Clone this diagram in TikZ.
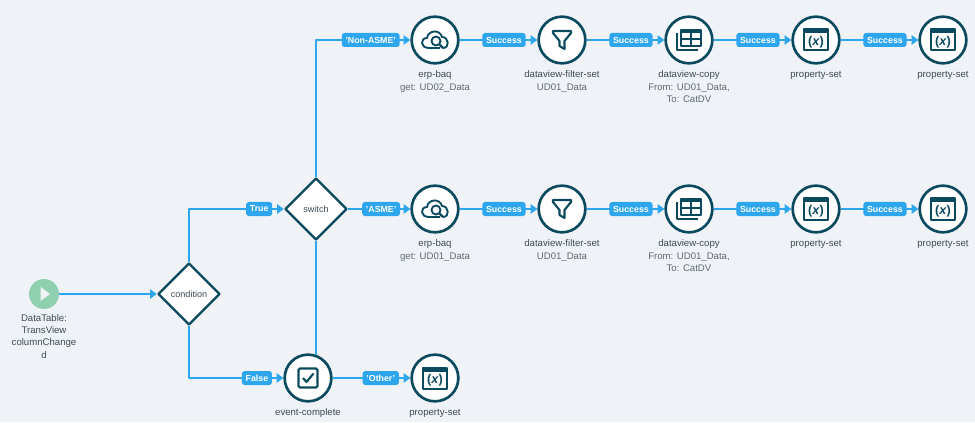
\documentclass[tikz,border=0pt]{standalone}
\usepackage{fontspec}
\setmainfont{Liberation Sans}
\usetikzlibrary{arrows.meta,positioning,shapes.geometric}
\definecolor{pagebg}{HTML}{EFF3F7}
\definecolor{teal}{HTML}{0B4A5E}
\definecolor{flow}{HTML}{2EA6EE}
\definecolor{startgreen}{HTML}{8FD0B0}
\definecolor{captext}{HTML}{3F4A52}
\definecolor{subtext}{HTML}{5F6A72}
\tikzset{
	act/.style={circle, draw=teal, line width=2pt, fill=white, minimum size=35pt, inner sep=0pt},
	gate/.style={diamond, aspect=1, draw=teal, line width=1.8pt, fill=white, minimum size=46.5pt, inner sep=0pt, text=captext, font=\fontsize{6.8}{8}\selectfont},
	capt/.style={align=center, inner sep=0pt, text=captext, font=\fontsize{7.2}{9.3}\selectfont},
	flag/.style={fill=flow, text=white, rounded corners=2pt, inner xsep=2.8pt, inner ysep=0pt, minimum height=10.5pt, font=\fontsize{6.6}{8}\bfseries\selectfont},
	wire/.style={flow, line width=1.4pt, ->},
	iconbaq/.pic={
		\draw[teal, line width=1.4pt] (5,-8) -- (-6,-8) .. controls (-15,-8) and (-15,2) .. (-8,2) .. controls (-7,10) and (5,11) .. (7,3) .. controls (14,3) and (15,-8) .. (8,-8);
		\draw[teal, line width=1.4pt] (1,-1) circle (4.5);
		\draw[teal, line width=1.8pt] (4.5,-4.5) -- (8,-8);
	},
	iconfilter/.pic={
		\draw[teal, line width=1.6pt, line join=round] (-9,9) -- (9,9) -- (9,7) -- (2.5,-1) -- (2.5,-9) -- (-2.5,-6) -- (-2.5,-1) -- (-9,7) -- cycle;
	},
	icontable/.pic={
		\draw[teal, line width=1.5pt] (-8,-6) rectangle (12,10);
		\fill[teal] (-8,6.5) rectangle (12,10);
		\draw[teal, line width=1.5pt] (2,-6) -- (2,8) (-8,1) -- (12,1);
		\draw[teal, line width=1.5pt] (-12.5,7) -- (-12.5,-10) -- (9,-10);
	},
	iconvar/.pic={
		\draw[teal, line width=1.5pt] (-12,-10.5) rectangle (12,10.5);
		\fill[teal] (-12,6.5) rectangle (12,10.5);
		\node[teal, inner sep=0pt, font=\fontsize{9.5}{9.5}\bfseries\selectfont] at (0,-2) {(\textit{x})};
	},
	iconcheck/.pic={
		\draw[teal, line width=1.6pt, rounded corners=1pt] (-9.5,-9.5) rectangle (9.5,9.5);
		\draw[teal, line width=1.6pt] (-5,0) -- (-1.5,-4) -- (5.5,4.5);
	},
}
\begin{document}
\begin{tikzpicture}[x=0.75pt, y=0.75pt, line join=round, >={Triangle[length=5pt,width=7pt]}]
	\fill[pagebg] (0,0) rectangle (975,422);
	\useasboundingbox (0,0) rectangle (975,422);

	% start
	\node[circle, fill=startgreen, minimum size=22.5pt, inner sep=0pt] (start) at (44,128) {};
	\fill[pagebg] (40.5,135) -- (40.5,121) -- (50,128) -- cycle;
	\node[capt, below=3.4pt of start] (startcap) {DataTable:\\TransView\\columnChange\\d};

	% gates
	\node[gate] (cond) at (189,128) {condition};
	\node[gate] (sw) at (316,213) {switch};

	% the two long rows
	\foreach \r/\y/\tbl in {a/382/UD02, b/213/UD01} {
		\node[act] (\r1) at (435,\y) {};
		\node[act] (\r2) at (562,\y) {};
		\node[act] (\r3) at (689,\y) {};
		\node[act] (\r4) at (816,\y) {};
		\node[act] (\r5) at (943,\y) {};
		\pic at (\r1) {iconbaq};
		\pic at (\r2) {iconfilter};
		\pic at (\r3) {icontable};
		\pic at (\r4) {iconvar};
		\pic at (\r5) {iconvar};
		\node[capt, below=4.4pt of \r1] (\r1cap) {erp-baq\\\textcolor{subtext}{get: \tbl\_Data}};
		\node[capt, below=4.4pt of \r2] (\r2cap) {dataview-filter-set\\\textcolor{subtext}{UD01\_Data}};
		\node[capt, below=4.4pt of \r3] (\r3cap) {dataview-copy\\\textcolor{subtext}{From: UD01\_Data,}\\\textcolor{subtext}{To: CatDV}};
		\node[capt, below=4.4pt of \r4] (\r4cap) {property-set};
		\node[capt, below=4.4pt of \r5] (\r5cap) {property-set};
		\foreach \p/\q in {1/2, 2/3, 3/4, 4/5} {
			\draw[wire] (\r\p) -- node[flag, pos=.57]{Success} (\r\q);
		}
	}

	% bottom row
	\node[act] (ev) at (308,44) {};
	\pic at (ev) {iconcheck};
	\node[capt, below=4.4pt of ev] (evcap) {event-complete};
	\node[act] (prop) at (435,44) {};
	\pic at (prop) {iconvar};
	\node[capt, below=4.4pt of prop] (propcap) {property-set};

	% connectors
	\draw[wire] (start) -- (cond);
	\draw[wire] (cond.north) |- node[flag, pos=.87]{True} (sw.west);
	\draw[wire] (cond.south) |- node[flag, pos=.86]{False} (ev);
	\draw[wire] (sw.north) |- node[flag, pos=.79]{'Non-ASME'} (a1);
	\draw[wire] (sw.east) -- node[flag, pos=.53]{'ASME'} (b1);
	\draw[flow, line width=1.4pt] (sw.south) -- (sw.south |- ev.70);
	\draw[wire] (ev) -- node[flag, pos=.62]{'Other'} (prop);
\end{tikzpicture}
\end{document}
